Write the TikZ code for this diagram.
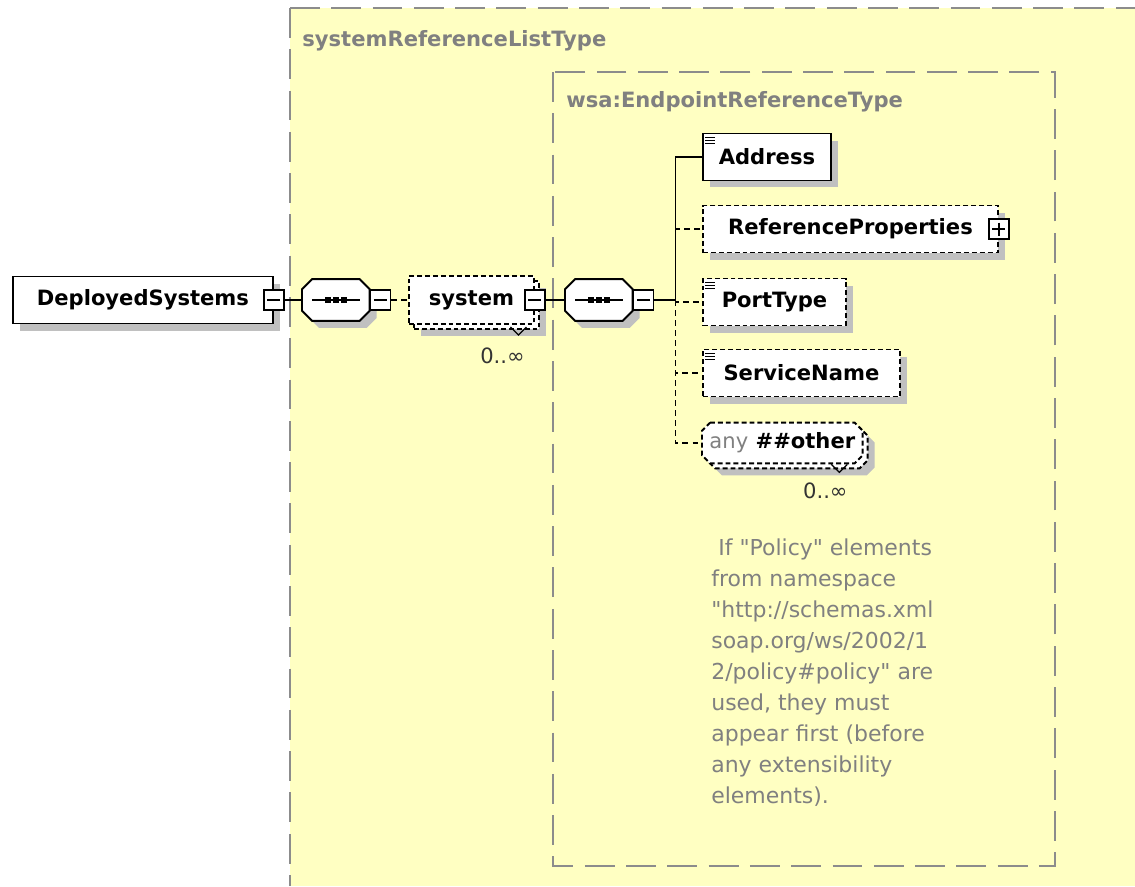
\documentclass[tikz,border=0pt]{standalone}
\usepackage{fontspec}
\setmainfont{DejaVu Sans}
\usetikzlibrary{calc,shadows}

\definecolor{schemaYellow}{RGB}{255,255,194}
\definecolor{frameGray}{RGB}{140,140,140}
\definecolor{noteGray}{RGB}{128,128,128}
\definecolor{shadowGray}{RGB}{192,192,192}

\tikzset{
  box/.style={draw=black, line width=1.1pt, fill=white, inner sep=0pt, anchor=west,
    minimum height=0.94cm, font=\fontsize{12}{14}\selectfont\bfseries},
  boxshadow/.style={drop shadow={shadow xshift=0.14cm, shadow yshift=-0.14cm, fill=shadowGray, opacity=1}},
  optline/.style={dash pattern=on 2.8pt off 1.7pt},
  elem/.style={box, boxshadow},
  optelem/.style={box, boxshadow, optline},
  seq/.style={inner sep=0pt, anchor=west, minimum width=1.34cm, minimum height=0.82cm},
  anyslot/.style={inner sep=0pt, anchor=west, minimum width=3.2cm, minimum height=0.8cm,
    font=\fontsize{12}{14}\selectfont\bfseries},
  outline/.style={draw=black, line width=1.1pt, fill=white},
  toggleminus/.style={draw=black, line width=0.9pt, fill=white, minimum size=0.4cm, inner sep=0pt,
    path picture={\draw[line width=0.8pt] ([xshift=0.07cm]path picture bounding box.west) -- ([xshift=-0.07cm]path picture bounding box.east);}},
  toggleplus/.style={draw=black, line width=0.9pt, fill=white, minimum size=0.4cm, inner sep=0pt,
    path picture={\draw[line width=0.8pt] ([xshift=0.07cm]path picture bounding box.west) -- ([xshift=-0.07cm]path picture bounding box.east);
      \draw[line width=0.8pt] ([yshift=-0.07cm]path picture bounding box.north) -- ([yshift=0.07cm]path picture bounding box.south);}},
  conn/.style={line width=0.85pt},
  optconn/.style={conn, dash pattern=on 3.4pt off 2.3pt},
  typeframe/.style={draw=frameGray, line width=1.1pt, dash pattern=on 17pt off 6.5pt},
  typelabel/.style={text=noteGray, inner sep=0pt, anchor=west, font=\fontsize{12}{14}\selectfont\bfseries},
  occurs/.style={inner sep=0pt, text=black!80, font=\fontsize{12}{14}\selectfont},
  note/.style={text=noteGray, inner sep=0pt, align=left, anchor=north west, font=\fontsize{12.5}{17.7}\selectfont}
}

% octagon outline around a node, #3 = cut in px
\newcommand{\octagon}[3][]{%
  \path[outline, #1] ($(#2.north west)+(#3,0)$) -- ($(#2.north east)+(-#3,0)$)
    -- ($(#2.north east)+(0,#3)$) -- ($(#2.south east)+(0,-#3)$)
    -- ($(#2.south east)+(-#3,0)$) -- ($(#2.south west)+(#3,0)$)
    -- ($(#2.south west)+(0,-#3)$) -- ($(#2.north west)+(0,#3)$) -- cycle;}
% simple content marker in the upper left corner
\newcommand{\simpleicon}[1]{%
  \foreach \k in {5,8,11}
    \draw[line width=0.7pt] ($(#1.north west)+(3,\k)$) -- ++(10,0);}
% sequence compositor mark
\newcommand{\seqmark}[1]{%
  \draw[line width=0.8pt] ($(#1.west)+(10,0)$) -- ($(#1.east)+(-10,0)$);
  \foreach \d in {-8,0,8}
    \fill ($(#1.center)+(\d-3,-3)$) rectangle ++(6,6);}

\begin{document}
\begin{tikzpicture}[x=0.02cm, y=-0.02cm]
  \useasboundingbox (0,0) rectangle (1135,886);
  \fill[white] (0,0) rectangle (1135,886);

  % complex types
  \fill[schemaYellow] (290,8) rectangle (1135,886);
  \draw[typeframe] (290,8) -- (1135,8);
  \draw[typeframe] (290,8) -- (290,886);
  \node[typelabel] (ListTypeLabel) at (302,41) {systemReferenceListType};
  \draw[typeframe] (553,72) rectangle (1055,866);
  \node[typelabel] (EndpointTypeLabel) at (566,102) {wsa:EndpointReferenceType};

  % root element
  \node[elem, minimum width=5.2cm] (DeployedSystems) at (12,300) {DeployedSystems};
  \node[toggleminus] (DeployedSystemsMinus) at (DeployedSystems.east) {};

  \node[seq] (SeqOuter) at (302,300) {};
  \octagon[boxshadow]{SeqOuter}{10}
  \seqmark{SeqOuter}
  \node[toggleminus, anchor=west] (SeqOuterMinus) at (SeqOuter.east) {};

  % system, 0..unbounded
  \node[optelem, minimum width=2.5cm, minimum height=0.96cm] (SystemBack) at (413,305) {};
  \node[box, optline, minimum width=2.5cm, minimum height=0.96cm] (System) at (408,300) {system};
  \node[toggleminus] (SystemMinus) at (System.east) {};
  \draw[line width=0.7pt] ($(SystemBack.south)+(34,-3)$) -- ++(8,8) -- ++(8,-8);
  \node[occurs] (SystemOccurs) at ($(SystemBack.south)+(26,26)$) {0..∞};

  \node[seq] (SeqInner) at (565,300) {};
  \octagon[boxshadow]{SeqInner}{10}
  \seqmark{SeqInner}
  \node[toggleminus, anchor=west] (SeqInnerMinus) at (SeqInner.east) {};

  % children of wsa:EndpointReferenceType
  \node[elem, minimum width=2.56cm] (Address) at (702,157) {Address};
  \simpleicon{Address}
  \node[optelem, minimum width=5.9cm] (ReferenceProperties) at (702,229) {ReferenceProperties\hspace{0.2cm}};
  \node[toggleplus] (ReferencePropertiesPlus) at (ReferenceProperties.east) {};
  \node[optelem, minimum width=2.86cm] (PortType) at (702,302) {PortType};
  \simpleicon{PortType}
  \node[optelem, minimum width=3.94cm] (ServiceName) at (702,373) {ServiceName};
  \simpleicon{ServiceName}

  \node[anyslot] (AnyBack) at (707,448) {};
  \octagon[boxshadow, optline]{AnyBack}{8}
  \node[anyslot] (AnyOther) at (702,443) {};
  \octagon[optline]{AnyOther}{8}
  \node[anyslot] (AnyOtherText) at (AnyOther.west) {{\color{noteGray}\mdseries any} \#\#other};
  \draw[line width=0.7pt] ($(AnyBack.south)+(44,-4)$) -- ++(8,8) -- ++(8,-8);
  \node[occurs] (AnyOccurs) at ($(AnyBack.south)+(38,22)$) {0..∞};

  % connectors
  \draw[conn] (DeployedSystemsMinus.east) -- (SeqOuter.west);
  \draw[optconn] (SeqOuterMinus.east) -- (System.west);
  \draw[conn] (SystemMinus.east) -- (SeqInner.west);
  \coordinate (Trunk) at ($(SeqInnerMinus.east)+(21,0)$);
  \draw[conn] (SeqInnerMinus.east) -- (Trunk);
  \foreach \n in {ReferenceProperties, PortType, ServiceName, AnyOther}
    \draw[optconn] (Trunk) |- (\n.west);
  \draw[conn] (Trunk) |- (Address.west);

  % annotation
  \node[note] (PolicyNote) at (711,538) {\hspace{4pt}If \textquotedbl Policy\textquotedbl{} elements\\from namespace\\\textquotedbl http://schemas.xml\\soap.org/ws/2002/1\\2/policy\#policy\textquotedbl{} are\\used, they must\\appear first (before\\any extensibility\\elements).};
\end{tikzpicture}
\end{document}
